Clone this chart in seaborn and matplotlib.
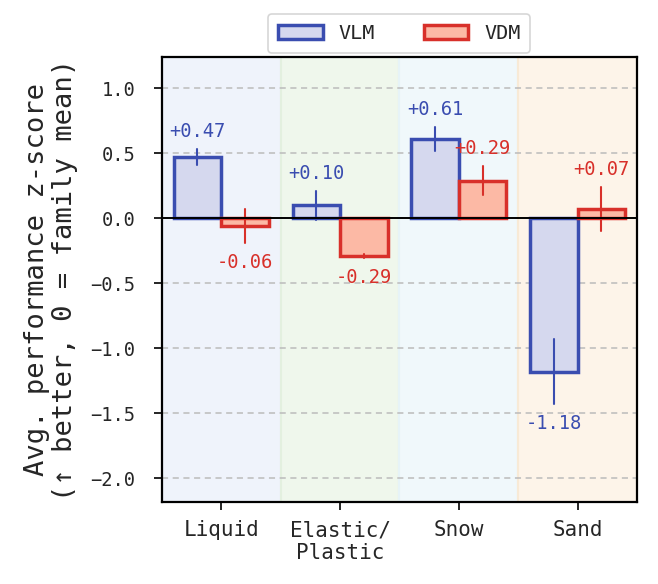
import matplotlib
matplotlib.use("Agg")
import matplotlib.pyplot as plt
import seaborn as sns
import pandas as pd
import numpy as np
from matplotlib.patches import Patch

categories = ["Liquid", "Elastic/\nPlastic", "Snow", "Sand"]
models = ["VLM", "VDM"]
vlm_values = [0.47, 0.10, 0.61, -1.18]
vdm_values = [-0.06, -0.29, 0.29, 0.07]
vlm_err = [0.06, 0.11, 0.09, 0.25]
vdm_err = [0.13, 0.015, 0.11, 0.17]
yticks = [1.0, 0.5, 0.0, -0.5, -1.0, -1.5, -2.0]

edge_colors = {"VLM": "#3a4db0", "VDM": "#d8302a"}
fill_colors = {"VLM": "#d5d8ee", "VDM": "#fcb9a5"}
bg_colors = ["#eff3fb", "#eff7ec", "#f0f8fb", "#fdf4e9"]
bg_edges = ["#e6edf8", "#e3f0df", "#e6f3f7", "#f8ead6"]

sns.set_theme(style="white")
plt.rcParams["font.family"] = ["DejaVu Sans Mono", "DejaVu Sans"]

df = pd.DataFrame({
    "category": categories * 2,
    "model": ["VLM"] * 4 + ["VDM"] * 4,
    "value": vlm_values + vdm_values,
    "err": vlm_err + vdm_err,
})

fig, ax = plt.subplots(figsize=(6.58, 5.84), dpi=100)
fig.subplots_adjust(left=0.246, right=0.968, top=0.902, bottom=0.14)

for i, c in enumerate(bg_colors):
    ax.axvspan(i - 0.5, i + 0.5, facecolor=c, edgecolor=bg_edges[i], zorder=0, lw=1.5)

sns.barplot(data=df, x="category", y="value", hue="model", hue_order=models,
            order=categories, palette=fill_colors, errorbar=None, width=0.8,
            ax=ax, zorder=3, legend=False, saturation=1)

for j, m in enumerate(models):
    vals = vlm_values if m == "VLM" else vdm_values
    errs = vlm_err if m == "VLM" else vdm_err
    container = ax.containers[j]
    for i, p in enumerate(container.patches):
        p.set_facecolor(fill_colors[m])
        p.set_edgecolor(edge_colors[m])
        p.set_linewidth(2.5)
        xc = p.get_x() + p.get_width() / 2
        v = vals[i]
        e = errs[i]
        ax.plot([xc, xc], [v - e, v + e], color=edge_colors[m], lw=1.5, zorder=4)
        label = f"{v:+.2f}"
        if v >= 0:
            ax.annotate(label, (xc, v + e), xytext=(0, 6), textcoords="offset points",
                        ha="center", va="bottom", color=edge_colors[m], fontsize=13.5, zorder=5)
        else:
            ax.annotate(label, (xc, v - e), xytext=(0, -7),
                        textcoords="offset points", ha="center", va="top",
                        color=edge_colors[m], fontsize=13.5, zorder=5)

ax.axhline(0, color="black", lw=1.4, zorder=4)
ax.set_ylim(-2.185, 1.24)
ax.set_xlim(-0.5, 3.5)
ax.set_yticks(yticks)
ax.set_yticklabels([f"{t:.1f}".replace("-", "\u2212") for t in yticks], fontsize=13.5)
ax.tick_params(axis="x", labelsize=15, pad=7)
ax.tick_params(axis="y", pad=13)
ax.yaxis.grid(True, linestyle=(0, (4, 3)), color="#bbbbbb", lw=1.1, zorder=1)
ax.set_axisbelow(True)
ax.tick_params(axis="both", which="both", direction="out", length=6, width=1.2,
               color="black", left=True, bottom=True)
ax.set_xlabel("")
ax.set_ylabel("Avg. performance z-score\n(↑ better, 0 = family mean)", fontsize=19.5,
              linespacing=1.1, labelpad=9)
for s in ax.spines.values():
    s.set_color("black")
    s.set_linewidth(1.6)

handles = [Patch(facecolor=fill_colors[m], edgecolor=edge_colors[m], lw=2.5, label=m)
           for m in models]
leg = ax.legend(handles=handles, loc="lower center", bbox_to_anchor=(0.5, 1.0),
                ncol=2, frameon=True, fontsize=14.5, handlelength=2.2, columnspacing=2.4,
                fancybox=True, borderaxespad=0.2, borderpad=0.5)
leg.get_frame().set_edgecolor("#cccccc")
leg.get_frame().set_linewidth(1.2)

fig.savefig("out.png", dpi=100)
